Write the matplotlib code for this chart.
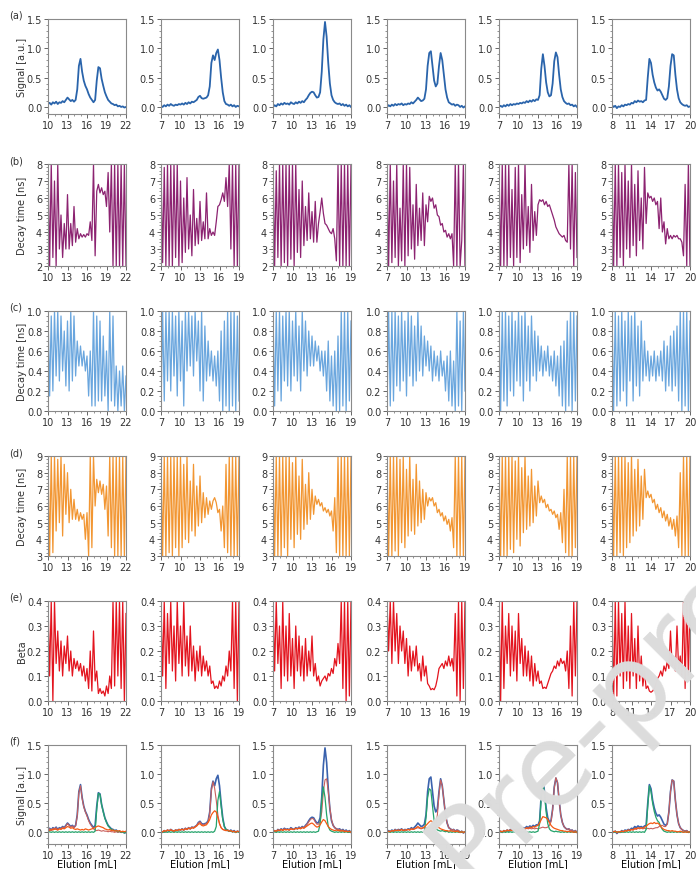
import numpy as np
import matplotlib
matplotlib.use('Agg')
import matplotlib.pyplot as plt
from matplotlib.ticker import MultipleLocator

plt.rcParams['font.family'] = ['DejaVu Sans']

# elution range for each column (mL)
x_lo = [10, 7, 7, 7, 7, 8]
x_hi = [22, 19, 19, 19, 19, 20]
x_tick_start = [10, 7, 7, 7, 7, 8]

# row (a) / blue trace of row (f): total signal [a.u.], sampled every 0.25 mL
signal_c1 = [0.05, 0.07, 0.04, 0.08, 0.06, 0.09, 0.05, 0.08, 0.07, 0.10, 0.08, 0.12, 0.16, 0.13, 0.10, 0.12,
             0.09, 0.12, 0.30, 0.70, 0.82, 0.60, 0.45, 0.36, 0.30, 0.22, 0.16, 0.12, 0.08, 0.12, 0.45, 0.68,
             0.66, 0.48, 0.36, 0.25, 0.18, 0.12, 0.09, 0.06, 0.05, 0.03, 0.04, 0.01, 0.02, 0.00, 0.01, -0.01, 0.00]
signal_c2 = [0.02, 0.00, 0.03, 0.01, 0.04, 0.02, 0.05, 0.03, 0.02, 0.04, 0.03, 0.05, 0.04, 0.06, 0.04, 0.07,
             0.05, 0.08, 0.06, 0.09, 0.08, 0.10, 0.12, 0.17, 0.19, 0.15, 0.14, 0.15, 0.16, 0.20, 0.35, 0.75,
             0.88, 0.80, 0.92, 0.98, 0.80, 0.50, 0.25, 0.10, 0.05, 0.04, 0.02, 0.04, 0.01, 0.03, 0.00, 0.02, 0.01]
signal_c3 = [0.00, 0.03, 0.01, 0.05, 0.03, 0.06, 0.04, 0.07, 0.05, 0.06, 0.04, 0.08, 0.06, 0.05, 0.08, 0.06,
             0.09, 0.07, 0.10, 0.08, 0.12, 0.15, 0.20, 0.24, 0.26, 0.25, 0.20, 0.16, 0.17, 0.25, 0.60, 1.15,
             1.45, 1.20, 0.75, 0.40, 0.20, 0.12, 0.08, 0.06, 0.05, 0.06, 0.03, 0.05, 0.02, 0.04, 0.01, 0.03, 0.00]
signal_c4 = [0.00, 0.03, 0.01, 0.04, 0.02, 0.05, 0.03, 0.05, 0.04, 0.06, 0.03, 0.05, 0.04, 0.06, 0.05, 0.08,
             0.06, 0.09, 0.12, 0.16, 0.13, 0.10, 0.11, 0.14, 0.30, 0.70, 0.92, 0.95, 0.70, 0.45, 0.35, 0.40,
             0.70, 0.92, 0.80, 0.55, 0.30, 0.16, 0.08, 0.06, 0.04, 0.05, 0.02, 0.04, 0.03, 0.00, 0.02, -0.01, 0.01]
signal_c5 = [0.00, 0.02, 0.00, 0.03, 0.01, 0.04, 0.02, 0.05, 0.03, 0.05, 0.04, 0.06, 0.05, 0.07, 0.06, 0.08,
             0.07, 0.10, 0.08, 0.11, 0.09, 0.12, 0.10, 0.13, 0.12, 0.20, 0.65, 0.90, 0.70, 0.42, 0.25, 0.18,
             0.20, 0.40, 0.78, 0.93, 0.85, 0.55, 0.30, 0.17, 0.10, 0.07, 0.05, 0.06, 0.03, 0.04, 0.01, 0.03, 0.00]
signal_c6 = [0.03, 0.00, 0.02, -0.02, 0.01, 0.00, 0.03, 0.01, 0.04, 0.03, 0.05, 0.04, 0.07, 0.06, 0.10, 0.08,
             0.11, 0.09, 0.10, 0.08, 0.11, 0.12, 0.50, 0.82, 0.75, 0.55, 0.42, 0.33, 0.28, 0.30, 0.26, 0.20,
             0.14, 0.12, 0.15, 0.35, 0.70, 0.90, 0.88, 0.55, 0.30, 0.15, 0.08, 0.05, 0.03, 0.02, 0.03, 0.00, 0.01]

# row (b): decay time [ns], purple
tau_b1 = [8, 2, 8, 2.5, 7, 2, 8, 3, 5, 2.5, 4.5, 3, 6.2, 3, 4.5, 3.2, 5.5, 3.4, 4.2, 3.6, 3.9, 3.7, 3.85, 3.7,
          3.9, 3.8, 4.6, 3.5, 8, 2.6, 6.4, 6.8, 6.3, 6.6, 6.2, 6.4, 5.5, 7.5, 4.0, 8, 2, 8, 2, 8, 2, 8, 2, 8, 2]
tau_b2 = [8, 2.2, 7.8, 2, 8, 2, 8, 2, 8, 2.5, 8, 2, 7, 2.2, 6, 2.8, 7.2, 3, 5, 2.6, 6.5, 3.2, 4.8, 3.3, 5.8,
          3.5, 4.6, 3.6, 6.3, 3.6, 4.2, 3.8, 4.0, 3.8, 4.6, 5.5, 5.6, 5.9, 6.3, 5.8, 7.2, 5.5, 8, 3, 8, 2, 8, 2, 8]
tau_b3 = [8, 2, 7.6, 2.5, 8, 2, 8, 2.2, 8, 2, 8, 2.4, 8, 2, 8, 2.8, 6.5, 2.5, 7, 3.2, 5.5, 3.5, 6.3, 3.6, 5.2,
          3.4, 5.8, 3.4, 4.5, 5.2, 6.0, 5.1, 4.5, 4.4, 4.2, 4.0, 3.9, 4.2, 3.6, 2.3, 8, 2, 8, 2, 8, 2, 8, 2, 8]
tau_b4 = [8, 2, 8, 2.2, 7, 2.5, 8, 2, 5.4, 2.3, 8, 2, 8, 2.6, 7.8, 3, 5.6, 2.4, 6.8, 3.2, 5.4, 3.5, 6.3, 3.2,
          5.6, 4.6, 6.1, 5.8, 6.0, 5.4, 5.6, 5.0, 4.9, 4.4, 4.5, 4.0, 4.1, 3.7, 3.9, 3.6, 3.9, 2, 8, 2, 8, 2, 3.5, 8, 2]
tau_b5 = [8, 2, 8, 2, 8, 2, 8, 2.5, 6.5, 2, 7.8, 2.5, 8, 2.2, 6.2, 3, 8, 3.2, 5.5, 2.8, 6.8, 3.5, 5.2, 3.8,
          5.6, 5.9, 5.8, 5.9, 5.6, 5.8, 5.5, 5.6, 5.3, 5.0, 4.7, 4.3, 4.1, 3.9, 3.8, 3.7, 3.8, 3.5, 3.4, 8, 3.0,
          8, 2, 7.5, 2.5]
tau_b6 = [8, 2, 8, 2, 8, 2.5, 7.5, 2, 8, 3, 7, 2.5, 8, 3.2, 6.8, 2.6, 7.6, 3.5, 6, 3, 7.8, 4.5, 6.3, 6.0, 6.1,
          5.8, 6.0, 5.6, 5.8, 4.2, 6.0, 4.0, 4.6, 3.3, 4.2, 3.6, 3.8, 3.6, 3.8, 3.7, 3.8, 3.6, 3.6, 3.4, 2.6,
          6.8, 2, 8, 2]

# row (c): decay time [ns], light blue
tau_c1 = [1.0, 0.15, 0.95, 0.2, 1.0, 0.35, 1.0, 0.3, 0.95, 0.4, 0.8, 0.25, 0.9, 0.2, 1.0, 0.3, 0.95, 0.35,
          0.7, 0.45, 0.65, 0.45, 0.6, 0.4, 0.55, 0.15, 0.6, 0.05, 1.0, 0.05, 0.95, 0.1, 0.9, 0.1, 0.75, 0.15,
          0.6, 0.0, 1.0, 0.1, 0.95, 0.05, 0.45, 0.0, 0.4, 0.05, 0.45, 0.0, 0.35]
tau_c2 = [0.0, 1.0, 0.1, 1.0, 0.3, 1.0, 0.2, 1.0, 0.35, 0.95, 0.15, 1.0, 0.3, 0.9, 0.05, 1.0, 0.4, 1.0, 0.45,
          0.95, 0.35, 1.0, 0.5, 0.9, 0.2, 1.0, 0.1, 0.85, 0.3, 0.7, 0.35, 0.6, 0.3, 0.55, 0.25, 0.6, 0.1, 0.8,
          0.0, 0.9, 0.05, 1.0, 0.0, 1.0, 0.05, 1.0, 0.0, 0.95, 0.1]
tau_c3 = [1.0, 0.05, 1.0, 0.2, 1.0, 0.1, 0.95, 0.3, 1.0, 0.25, 1.0, 0.2, 0.9, 0.35, 1.0, 0.3, 0.85, 0.2, 1.0,
          0.4, 0.9, 0.35, 0.8, 0.45, 0.75, 0.45, 0.7, 0.5, 0.65, 0.4, 0.6, 0.35, 0.6, 0.2, 0.7, 0.1, 0.55, 0.05,
          0.6, 0.0, 0.75, 0.0, 1.0, 0.05, 1.0, 0.0, 1.0, 0.1, 0.9]
tau_c4 = [0.0, 1.0, 0.05, 1.0, 0.1, 1.0, 0.25, 0.95, 0.2, 1.0, 0.3, 0.9, 0.15, 1.0, 0.35, 0.95, 0.25, 0.85,
          0.3, 1.0, 0.4, 0.85, 0.35, 0.75, 0.45, 0.7, 0.4, 0.65, 0.3, 0.6, 0.35, 0.55, 0.3, 0.6, 0.35, 0.5, 0.2,
          0.55, 0.1, 0.6, 0.05, 0.5, 0.0, 1.0, 0.05, 0.9, 0.0, 1.0, 0.2]
tau_c5 = [1.0, 0.0, 1.0, 0.1, 1.0, 0.05, 0.95, 0.2, 1.0, 0.15, 0.9, 0.3, 1.0, 0.25, 0.95, 0.1, 1.0, 0.3, 0.85,
          0.2, 0.95, 0.35, 0.8, 0.3, 0.75, 0.4, 0.65, 0.35, 0.6, 0.4, 0.65, 0.35, 0.55, 0.3, 0.6, 0.25, 0.55,
          0.15, 0.65, 0.05, 0.7, 0.0, 0.9, 0.05, 1.0, 0.0, 1.0, 0.1, 0.95]
tau_c6 = [1.0, 0.0, 1.0, 0.05, 0.95, 0.1, 1.0, 0.2, 0.9, 0.05, 1.0, 0.3, 0.95, 0.1, 1.0, 0.25, 0.85, 0.15, 0.9,
          0.3, 0.7, 0.35, 0.6, 0.3, 0.55, 0.35, 0.6, 0.3, 0.55, 0.35, 0.6, 0.3, 0.7, 0.2, 0.65, 0.25, 0.75, 0.2,
          0.8, 0.25, 0.85, 0.1, 1.0, 0.0, 1.0, 0.05, 1.0, 0.0, 0.9]

# row (d): decay time [ns], orange
tau_d1 = [9, 3, 9, 3.2, 9, 4.5, 8.8, 5, 9, 4.2, 8.5, 5.5, 8, 5.0, 7.0, 5.2, 6.4, 5.2, 5.8, 5.1, 5.6, 5.2, 5.5,
          4.0, 5.6, 3, 9, 3.5, 9, 6.0, 7.6, 6.8, 7.5, 6.7, 7.3, 5.8, 7.2, 4.2, 9, 3.5, 9, 3, 9, 3, 9, 3, 9, 3, 9]
tau_d2 = [9, 3, 9, 3, 9, 3.2, 9, 3, 9, 3.5, 9, 3, 9, 3.5, 8.5, 4, 9, 3.8, 7.5, 4.5, 8.5, 4.2, 7.2, 4.8, 7.8,
          5.0, 6.8, 5.3, 6.5, 5.5, 6.3, 5.8, 6.3, 6.5, 6.2, 5.6, 5.8, 4.5, 6.0, 3.5, 8.5, 3.2, 9, 3, 9, 3, 9, 3, 9]
tau_d3 = [9, 3, 9, 3, 9, 3, 9, 3.5, 9, 3, 9, 4, 8.6, 3.5, 9, 4.3, 7.8, 4, 8.8, 4.6, 7.3, 4.9, 8, 5.2, 7.0, 5.5,
          6.6, 6.1, 6.4, 6.0, 6.2, 5.7, 5.9, 5.6, 5.8, 5.4, 5.7, 4.5, 6.5, 3.2, 9, 3, 9, 3, 9, 3, 9, 3, 9]
tau_d4 = [9, 3, 9, 3, 9, 3.3, 9, 3, 8.8, 3.8, 9, 3.5, 8.2, 4.2, 9, 4.5, 7.6, 4.3, 8.5, 4.8, 7.5, 5.0, 7.0, 5.2,
          6.8, 6.0, 6.5, 6.3, 6.5, 6.0, 6.2, 5.6, 5.8, 5.4, 5.6, 5.1, 5.4, 4.9, 5.2, 4.5, 5.3, 3.5, 9, 3, 9, 3,
          9, 3, 9]
tau_d5 = [9, 3, 9, 3, 9, 3, 9, 3.4, 9, 3.2, 8.7, 4, 9, 3.6, 8.3, 4.4, 9, 4.6, 7.8, 4.8, 8.2, 5.0, 7.2, 5.4, 7.5,
          6.2, 6.6, 6.2, 6.4, 5.9, 6.1, 5.7, 5.8, 5.5, 5.7, 5.3, 5.5, 4.6, 5.6, 3.8, 7, 3.2, 9, 3, 9, 3, 9, 3.5, 9]
tau_d6 = [9, 3, 9, 3, 9, 3.2, 9, 3, 9, 3.5, 8.6, 3.8, 9, 4.2, 8.2, 4.5, 8.8, 4.8, 7.8, 5.2, 8.2, 6.5, 6.9, 6.5,
          6.7, 6.2, 6.4, 5.8, 6.1, 5.6, 5.9, 5.3, 5.7, 5.1, 5.5, 4.8, 5.3, 4.6, 5.2, 4.2, 5.4, 3.5, 8, 3, 9, 3,
          9, 3, 9]

# row (e): beta, red
beta_1 = [0.4, 0.1, 0.4, 0.0, 0.4, 0.15, 0.28, 0.12, 0.24, 0.1, 0.22, 0.15, 0.26, 0.12, 0.2, 0.1, 0.17, 0.13,
          0.16, 0.12, 0.15, 0.1, 0.14, 0.08, 0.13, 0.05, 0.2, 0.04, 0.28, 0.08, 0.12, 0.03, 0.05, 0.03, 0.04,
          0.02, 0.06, 0.03, 0.1, 0.05, 0.4, 0.06, 0.4, 0.1, 0.4, 0.05, 0.4, 0.0, 0.35]
beta_2 = [0.4, 0.1, 0.4, 0.05, 0.35, 0.15, 0.4, 0.12, 0.3, 0.08, 0.4, 0.15, 0.3, 0.1, 0.4, 0.14, 0.26, 0.1,
          0.3, 0.12, 0.22, 0.08, 0.2, 0.12, 0.22, 0.1, 0.18, 0.12, 0.16, 0.1, 0.14, 0.07, 0.08, 0.05, 0.06,
          0.05, 0.08, 0.06, 0.1, 0.08, 0.14, 0.1, 0.2, 0.12, 0.4, 0.05, 0.4, 0.0, 0.4]
beta_3 = [0.4, 0.12, 0.4, 0.15, 0.3, 0.05, 0.4, 0.1, 0.3, 0.08, 0.35, 0.1, 0.25, 0.05, 0.3, 0.12, 0.26, 0.1,
          0.22, 0.08, 0.25, 0.1, 0.2, 0.12, 0.26, 0.1, 0.15, 0.08, 0.1, 0.06, 0.08, 0.09, 0.1, 0.08, 0.11, 0.1,
          0.13, 0.11, 0.17, 0.14, 0.23, 0.15, 0.4, 0.05, 0.4, 0.0, 0.4, 0.02, 0.4]
beta_4 = [0.4, 0.2, 0.4, 0.15, 0.4, 0.2, 0.35, 0.15, 0.3, 0.2, 0.28, 0.15, 0.25, 0.1, 0.22, 0.12, 0.2, 0.14,
          0.22, 0.12, 0.15, 0.08, 0.18, 0.1, 0.14, 0.07, 0.06, 0.045, 0.05, 0.045, 0.06, 0.09, 0.13, 0.14, 0.15,
          0.13, 0.16, 0.14, 0.18, 0.14, 0.17, 0.12, 0.35, 0.02, 0.4, 0.0, 0.4, 0.05, 0.4]
beta_5 = [0.4, 0.0, 0.4, 0.05, 0.3, 0.15, 0.35, 0.1, 0.3, 0.12, 0.28, 0.08, 0.35, 0.15, 0.25, 0.1, 0.22, 0.1,
          0.2, 0.08, 0.18, 0.06, 0.15, 0.08, 0.12, 0.07, 0.08, 0.05, 0.055, 0.05, 0.07, 0.09, 0.11, 0.12, 0.14,
          0.13, 0.16, 0.14, 0.17, 0.15, 0.16, 0.12, 0.2, 0.05, 0.3, 0.02, 0.4, 0.1, 0.4]
beta_6 = [0.4, 0.0, 0.4, 0.02, 0.4, 0.1, 0.35, 0.05, 0.4, 0.08, 0.3, 0.05, 0.35, 0.1, 0.25, 0.05, 0.3, 0.08,
          0.18, 0.06, 0.12, 0.05, 0.06, 0.04, 0.035, 0.04, 0.05, 0.07, 0.09, 0.1, 0.12, 0.1, 0.14, 0.12, 0.16,
          0.13, 0.28, 0.14, 0.16, 0.12, 0.3, 0.13, 0.18, 0.1, 0.4, 0.05, 0.4, 0.1, 0.4]

# row (f): separate channels [a.u.]
red_c1 = [0.04, 0.06, 0.03, 0.07, 0.05, 0.08, 0.04, 0.07, 0.06, 0.09, 0.07, 0.11, 0.15, 0.12, 0.09, 0.11, 0.08,
          0.11, 0.28, 0.68, 0.80, 0.58, 0.44, 0.35, 0.28, 0.20, 0.14, 0.10, 0.06, 0.04, 0.03, 0.04, 0.03, 0.02,
          0.03, 0.02, 0.02, 0.01, 0.02, 0.01, 0.01, 0.00, 0.01, 0.00, 0.01, 0.00, 0.00, 0.01, 0.00]
green_c1 = [0.0, 0.01, 0.0, 0.01, 0.0, 0.01, 0.0, 0.01, 0.0, 0.01, 0.0, 0.01, 0.0, 0.01, 0.0, 0.01, 0.0, 0.01,
            0.0, 0.01, 0.0, 0.01, 0.0, 0.01, 0.0, 0.01, 0.0, 0.01, 0.0, 0.02, 0.40, 0.67, 0.65, 0.47, 0.35, 0.24,
            0.17, 0.11, 0.08, 0.05, 0.04, 0.03, 0.03, 0.01, 0.02, 0.0, 0.01, -0.01, 0.0]
orange_c1 = [0.04, 0.03, 0.05, 0.04, 0.06, 0.05, 0.04, 0.06, 0.05, 0.07, 0.06, 0.08, 0.10, 0.09, 0.07, 0.08,
             0.06, 0.05, 0.06, 0.05, 0.04, 0.05, 0.04, 0.06, 0.05, 0.04, 0.05, 0.06, 0.07, 0.08, 0.10, 0.11, 0.10,
             0.09, 0.08, 0.06, 0.05, 0.04, 0.05, 0.03, 0.04, 0.02, 0.03, 0.02, 0.03, 0.01, 0.02, 0.01, 0.02]

red_c2 = [0.02, 0.0, 0.03, 0.01, 0.04, 0.02, 0.05, 0.03, 0.02, 0.04, 0.03, 0.05, 0.04, 0.06, 0.04, 0.07, 0.05,
          0.08, 0.06, 0.09, 0.08, 0.10, 0.12, 0.16, 0.18, 0.14, 0.13, 0.14, 0.15, 0.18, 0.33, 0.72, 0.87, 0.76,
          0.55, 0.30, 0.15, 0.08, 0.05, 0.04, 0.03, 0.03, 0.02, 0.03, 0.01, 0.02, 0.0, 0.02, 0.01]
green_c2 = [0.0, 0.01, 0.0, 0.01, 0.0, 0.01, 0.0, 0.01, 0.0, 0.01, 0.0, 0.01, 0.0, 0.01, 0.0, 0.01, 0.0, 0.01,
            0.0, 0.01, 0.0, 0.01, 0.0, 0.01, 0.0, 0.01, 0.0, 0.01, 0.0, 0.01, 0.0, 0.01, 0.0, 0.02, 0.10, 0.55,
            0.70, 0.45, 0.22, 0.10, 0.05, 0.03, 0.02, 0.02, 0.01, 0.01, 0.0, 0.01, 0.0]
orange_c2 = [0.02, 0.01, 0.03, 0.02, 0.04, 0.03, 0.04, 0.03, 0.02, 0.04, 0.03, 0.05, 0.04, 0.05, 0.04, 0.06,
             0.05, 0.07, 0.06, 0.08, 0.07, 0.09, 0.11, 0.14, 0.15, 0.12, 0.11, 0.12, 0.13, 0.17, 0.22, 0.30, 0.34,
             0.37, 0.35, 0.25, 0.15, 0.08, 0.05, 0.04, 0.03, 0.04, 0.02, 0.03, 0.01, 0.02, 0.0, 0.02, 0.01]

red_c3 = [0.0, 0.03, 0.01, 0.04, 0.03, 0.05, 0.04, 0.06, 0.05, 0.05, 0.04, 0.07, 0.05, 0.05, 0.07, 0.06, 0.08,
          0.07, 0.09, 0.08, 0.11, 0.14, 0.18, 0.22, 0.24, 0.23, 0.18, 0.14, 0.14, 0.18, 0.35, 0.70, 0.90, 0.92,
          0.70, 0.42, 0.22, 0.12, 0.08, 0.06, 0.05, 0.05, 0.03, 0.04, 0.02, 0.03, 0.01, 0.02, 0.0]
green_c3 = [0.0, 0.01, 0.0, 0.01, 0.0, 0.01, 0.0, 0.01, 0.0, 0.01, 0.0, 0.01, 0.0, 0.01, 0.0, 0.01, 0.0, 0.01,
            0.0, 0.01, 0.0, 0.01, 0.0, 0.01, 0.0, 0.01, 0.0, 0.01, 0.02, 0.15, 0.55, 0.78, 0.60, 0.30, 0.10,
            0.04, 0.02, 0.01, 0.0, 0.01, 0.0, 0.01, 0.0, 0.01, 0.0, 0.01, 0.0, 0.0, 0.01]
orange_c3 = [0.01, 0.03, 0.02, 0.04, 0.03, 0.05, 0.03, 0.05, 0.04, 0.05, 0.04, 0.06, 0.05, 0.05, 0.07, 0.06,
             0.07, 0.06, 0.08, 0.07, 0.09, 0.11, 0.13, 0.15, 0.16, 0.14, 0.11, 0.09, 0.10, 0.13, 0.18, 0.22, 0.20,
             0.15, 0.10, 0.07, 0.05, 0.04, 0.03, 0.04, 0.03, 0.03, 0.02, 0.03, 0.01, 0.02, 0.01, 0.02, 0.0]

red_c4 = [0.0, 0.02, 0.01, 0.03, 0.02, 0.04, 0.03, 0.04, 0.03, 0.05, 0.03, 0.04, 0.04, 0.05, 0.04, 0.06, 0.05,
          0.06, 0.07, 0.08, 0.07, 0.06, 0.07, 0.08, 0.07, 0.08, 0.07, 0.08, 0.07, 0.08, 0.12, 0.30, 0.65, 0.90,
          0.80, 0.55, 0.30, 0.16, 0.08, 0.06, 0.04, 0.05, 0.02, 0.04, 0.03, 0.0, 0.02, -0.01, 0.01]
green_c4 = [0.0, 0.01, 0.0, 0.01, 0.0, 0.01, 0.0, 0.01, 0.0, 0.01, 0.0, 0.01, 0.0, 0.01, 0.0, 0.01, 0.0, 0.01,
            0.0, 0.01, 0.0, 0.01, 0.0, 0.01, 0.25, 0.60, 0.75, 0.72, 0.45, 0.20, 0.08, 0.04, 0.03, 0.02, 0.03,
            0.02, 0.01, 0.02, 0.0, 0.01, 0.0, 0.01, 0.0, 0.01, 0.0, 0.01, 0.0, 0.0, 0.01]
orange_c4 = [0.0, 0.02, 0.01, 0.03, 0.02, 0.04, 0.03, 0.04, 0.03, 0.05, 0.03, 0.04, 0.04, 0.05, 0.04, 0.06,
             0.05, 0.06, 0.08, 0.10, 0.08, 0.07, 0.08, 0.09, 0.12, 0.15, 0.18, 0.20, 0.18, 0.15, 0.12, 0.10, 0.08,
             0.06, 0.05, 0.04, 0.03, 0.03, 0.02, 0.03, 0.02, 0.02, 0.01, 0.02, 0.01, 0.0, 0.01, 0.0, 0.01]

red_c5 = [0.0, 0.02, 0.0, 0.02, 0.01, 0.03, 0.02, 0.04, 0.03, 0.04, 0.03, 0.05, 0.04, 0.05, 0.04, 0.06, 0.05,
          0.07, 0.06, 0.07, 0.06, 0.07, 0.06, 0.07, 0.06, 0.07, 0.08, 0.09, 0.08, 0.08, 0.09, 0.12, 0.18, 0.38,
          0.76, 0.94, 0.86, 0.55, 0.30, 0.17, 0.10, 0.07, 0.05, 0.06, 0.03, 0.04, 0.01, 0.03, 0.0]
green_c5 = [0.0, 0.01, 0.0, 0.01, 0.0, 0.01, 0.0, 0.01, 0.0, 0.01, 0.0, 0.01, 0.0, 0.01, 0.0, 0.01, 0.0, 0.01,
            0.0, 0.01, 0.0, 0.01, 0.0, 0.01, 0.02, 0.15, 0.60, 0.85, 0.65, 0.35, 0.15, 0.06, 0.03, 0.02, 0.01,
            0.02, 0.01, 0.01, 0.0, 0.01, 0.0, 0.01, 0.0, 0.01, 0.0, 0.01, 0.0, 0.0, 0.01]
orange_c5 = [0.0, 0.02, 0.01, 0.03, 0.02, 0.04, 0.03, 0.04, 0.03, 0.05, 0.04, 0.05, 0.04, 0.06, 0.05, 0.07,
             0.06, 0.08, 0.07, 0.09, 0.08, 0.10, 0.09, 0.11, 0.12, 0.16, 0.22, 0.27, 0.26, 0.25, 0.22, 0.17, 0.12,
             0.09, 0.07, 0.06, 0.05, 0.04, 0.03, 0.03, 0.02, 0.02, 0.01, 0.02, 0.01, 0.01, 0.0, 0.01, 0.0]

red_c6 = [0.02, 0.0, 0.02, -0.01, 0.01, 0.0, 0.02, 0.01, 0.03, 0.02, 0.04, 0.03, 0.05, 0.04, 0.06, 0.05, 0.07,
          0.06, 0.07, 0.06, 0.07, 0.06, 0.07, 0.06, 0.07, 0.06, 0.07, 0.08, 0.08, 0.10, 0.12, 0.12, 0.10, 0.10,
          0.14, 0.35, 0.70, 0.90, 0.88, 0.55, 0.30, 0.15, 0.08, 0.05, 0.03, 0.02, 0.03, 0.0, 0.01]
green_c6 = [0.0, 0.01, 0.0, 0.01, 0.0, 0.01, 0.0, 0.01, 0.0, 0.01, 0.0, 0.01, 0.0, 0.01, 0.0, 0.01, 0.0, 0.01,
            0.0, 0.01, 0.0, 0.05, 0.45, 0.80, 0.70, 0.50, 0.36, 0.26, 0.20, 0.17, 0.10, 0.05, 0.02, 0.01, 0.0,
            0.01, 0.0, 0.01, 0.0, 0.01, 0.0, 0.01, 0.0, 0.01, 0.0, 0.01, 0.0, 0.0, 0.01]
orange_c6 = [0.02, 0.01, 0.02, 0.0, 0.01, 0.01, 0.02, 0.01, 0.03, 0.02, 0.04, 0.03, 0.05, 0.04, 0.07, 0.06,
             0.08, 0.07, 0.08, 0.07, 0.09, 0.10, 0.13, 0.15, 0.16, 0.15, 0.17, 0.15, 0.16, 0.14, 0.10, 0.07, 0.05,
             0.04, 0.03, 0.03, 0.02, 0.03, 0.02, 0.02, 0.01, 0.01, 0.02, 0.01, 0.0, 0.01, 0.0, 0.01, 0.0]

signal = [signal_c1, signal_c2, signal_c3, signal_c4, signal_c5, signal_c6]
tau_b = [tau_b1, tau_b2, tau_b3, tau_b4, tau_b5, tau_b6]
tau_c = [tau_c1, tau_c2, tau_c3, tau_c4, tau_c5, tau_c6]
tau_d = [tau_d1, tau_d2, tau_d3, tau_d4, tau_d5, tau_d6]
beta = [beta_1, beta_2, beta_3, beta_4, beta_5, beta_6]
red_ch = [red_c1, red_c2, red_c3, red_c4, red_c5, red_c6]
green_ch = [green_c1, green_c2, green_c3, green_c4, green_c5, green_c6]
orange_ch = [orange_c1, orange_c2, orange_c3, orange_c4, orange_c5, orange_c6]

row_data = [signal, tau_b, tau_c, tau_d, beta]
row_colors = ['#2a64ab', '#8c2371', '#6aa6de', '#f29632', '#e3141e']
row_lw = [1.3, 0.9, 0.9, 0.9, 0.9]
row_labels = ['(a)', '(b)', '(c)', '(d)', '(e)', '(f)']
row_ylabels = ['Signal [a.u.]', 'Decay time [ns]', 'Decay time [ns]', 'Decay time [ns]', 'Beta',
               'Signal [a.u.]']
row_ylim = [(-0.12, 1.5), (2, 8), (0, 1), (3, 9), (0, 0.4), (-0.2, 1.5)]
row_major = [0.5, 1, 0.2, 1, 0.1, 0.5]
row_minor = [0.1, 0.2, 0.05, 0.2, 0.02, 0.1]

# layout in pixels (figure 696 x 870)
W, H = 696, 870
col_left = [48, 161, 273, 387, 499, 612]
ax_w = 78
row_top = [20, 165, 312, 457, 602, 746]
row_bot = [115, 267, 412, 557, 702, 845]

fig = plt.figure(figsize=(W / 100, H / 100), dpi=100)

for r in range(6):
    for c in range(6):
        ax = fig.add_axes([col_left[c] / W, 1 - row_bot[r] / H, ax_w / W, (row_bot[r] - row_top[r]) / H])
        if r < 5:
            y = row_data[r][c]
            x = np.linspace(x_lo[c], x_hi[c], len(y))
            ax.plot(x, y, color=row_colors[r], lw=row_lw[r])
        else:
            x = np.linspace(x_lo[c], x_hi[c], len(signal[c]))
            ax.plot(x, signal[c], color='#3a62ad', lw=1.2)
            ax.plot(x, red_ch[c], color='#c95f5c', lw=0.8)
            ax.plot(x, green_ch[c], color='#25a36b', lw=0.9)
            ax.plot(x, orange_ch[c], color='#f55a14', lw=0.9)
            ax.set_xlabel('Elution [mL]', fontsize=7, labelpad=-1)

        ax.set_xlim(x_lo[c], x_hi[c])
        ax.set_ylim(*row_ylim[r])
        ax.set_xticks(np.arange(x_tick_start[c], x_hi[c] + 0.1, 3))
        ax.xaxis.set_minor_locator(MultipleLocator(1))
        ax.yaxis.set_major_locator(MultipleLocator(row_major[r]))
        ax.yaxis.set_minor_locator(MultipleLocator(row_minor[r]))
        ax.tick_params(which='major', length=3, width=0.7, color='#666666', labelsize=7,
                       labelcolor='#333333', pad=1.2)
        ax.tick_params(which='minor', length=1.5, width=0.5, color='#666666')
        for s in ax.spines.values():
            s.set_color('#8a8a8a')
            s.set_linewidth(0.8)
        if c == 0:
            ax.set_ylabel(row_ylabels[r], fontsize=7, color='#333333')
            ax.yaxis.set_label_coords(-0.27, 0.5)
            fig.text(9 / W, 1 - (row_top[r] - 4) / H, row_labels[r], fontsize=7, color='#333333',
                     ha='left', va='center')

# journal watermark
fig.text(470 / W, 1 - 890 / H, 'Pre-proof', fontsize=82, color='#dcdcdc', rotation=45,
         rotation_mode='anchor', ha='left', va='baseline', zorder=100)

fig.savefig('out.png', dpi=100)
